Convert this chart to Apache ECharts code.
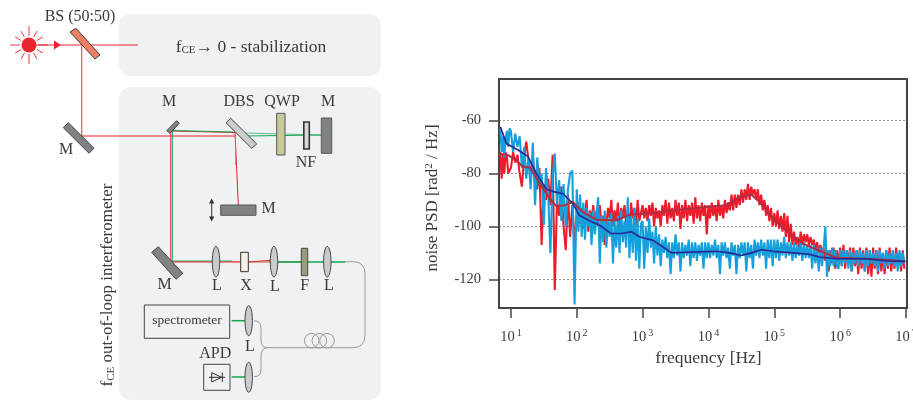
<!DOCTYPE html>
<html>
<head>
<meta charset="utf-8">
<style>html,body{margin:0;padding:0;background:#fff}#chart{width:913px;height:400px}</style>
<script src="https://cdn.jsdelivr.net/npm/echarts@6/dist/echarts.min.js"></script>
</head>
<body>
<div id="chart"></div>
<script>
// ---- values ----
const yTicks = [-120, -100, -80, -60];
const xTicks = [1e1, 1e2, 1e3, 1e4, 1e5, 1e6, 1e7];

// out-of-loop noise (red): one list per frequency span
const red0 = [-72,-82,-73,-80,-72,-74,-80,-79];
const red1 = [-78,-72,-76,-73,-80,-85,-74,-68,-75,-80,-74,-82,-86,-78,-107,-84,-90,-82,-92,-73,-124,-90,-96,-85,-100,-109,-88,-104,-92,-106];
const red2 = [-96,-91,-99,-93,-101,-95,-90,-102,-94,-98,-92,-100,-94,-100,-92,-99,-96,-107,-99,-93,-97,-90,-100,-94,-98,-91,-101,-93,-97,-92,-99,-94,-102,-91,-97,-93,-100,-90,-98,-95];
const red3 = [-92,-97,-93,-98,-92,-96,-91,-100,-93,-97,-94,-100,-92,-96,-90,-99,-91,-97,-93,-98,-90,-96,-91,-101,-92,-97,-90,-98,-92,-96,-91,-99,-89,-97,-92,-98,-91,-96,-92,-103];
const red4 = [-92,-97,-91,-96,-92,-98,-90,-96,-92,-97,-90,-95,-91,-94,-88,-94,-88,-93,-88,-92,-86,-91,-86,-90,-84,-90,-85,-88,-86,-90,-86,-92,-88,-94,-90,-96,-92,-98,-93,-100];
const red5 = [-95,-100,-94,-101,-96,-102,-95,-104,-96,-106,-99,-107,-102,-107,-104,-108,-102,-107,-103,-106,-103,-107,-104,-107,-105,-109,-106,-110,-107,-110,-108,-113,-109,-117,-109,-114,-108,-116,-109,-114];
const red6 = [-108,-115,-107,-116,-109,-114,-108,-117,-108,-115,-109,-118,-108,-116,-109,-117,-108,-118,-109,-119,-108,-116,-109,-118,-108,-117,-110,-118,-109,-116,-108,-117,-110,-116,-108,-115,-110,-117,-109,-116];

// in-loop noise (blue)
const blue0 = [-63,-72,-66,-74,-67,-64,-70,-63];
const blue1 = [-64,-72,-65,-70,-66,-78,-70,-82,-74,-86,-68.5,-92,-74,-84,-80,-99.5,-78,-88,-110,-82,-72.5,-92,-82.5,-98,-84,-100,-86,-80,-79,-129.5];
const blue2 = [-86,-102,-88,-104,-91,-105,-93,-100,-95,-107,-94,-103,-96,-89,-114,-96,-106,-94,-108,-97,-104,-95,-114,-98,-108,-96,-110,-94,-106,-98,-108,-89,-112,-96,-110,-93,-113,-97,-116,-99];
const blue3 = [-98,-116,-100,-110,-97,-108,-102,-114,-100,-111,-103,-115,-105,-110,-104,-112,-106,-118,-106,-112,-103,-111,-106,-117,-106,-112,-107,-111,-105,-115,-106,-112,-106,-113,-107,-111,-106,-116,-106,-112];
const blue4 = [-106,-112,-107,-111,-105,-112,-107,-118,-106,-111,-106,-112,-108,-116,-106,-111,-107,-118,-107,-112,-106,-111,-106,-117,-106,-112,-107,-116,-105,-111,-106,-112,-105,-111,-106,-116,-105,-112,-105,-115];
const blue5 = [-105,-112,-105,-113,-106,-111,-104,-112,-106,-111,-106,-113,-106,-112,-107,-111,-106,-113,-106,-112,-107,-112,-107,-116,-107,-114,-108,-117,-108,-115,-108,-100,-119,-109,-115,-108,-115,-109,-115,-116];
const blue6 = [-109,-115,-109,-114,-109,-116,-109,-117,-110,-114,-109,-115,-109,-114,-110,-117,-109,-115,-109,-114,-110,-115,-109,-117,-109,-114,-110,-116,-109,-115,-110,-114,-109,-115,-110,-117,-109,-115,-110,-114];

// averaged traces: log10(frequency) and level
const redAvgLog = [.84,.95,1.08,1.18,1.29,1.44,1.59,1.69,1.82,1.94,2.09,2.3,2.6,2.8,3.16,3.61,4.27,4.48,4.65,4.8,4.98,5.23,5.44,5.69,5.94,6.5,6.99];
const redAvg = [-72.7,-73,-75,-77.5,-77.8,-83.8,-89.5,-92.4,-92,-90.8,-94.6,-97.5,-97.7,-95.6,-95,-93.5,-92,-88.9,-88,-91.4,-97,-102.7,-106.5,-109.3,-111.8,-112.3,-113.2];
const blueAvgLog = [.84,.93,1.11,1.26,1.385,1.54,1.66,1.79,1.94,2.04,2.2,2.35,2.52,2.68,2.83,2.96,3.16,3.31,3.44,3.72,4.12,4.32,4.5,4.65,4.8,4.98,5.29,5.54,5.69,5.94,6.4,6.7,6.99];
const blueAvg = [-62.4,-68.7,-71.2,-73.7,-80,-86,-87,-87.6,-91.4,-95.8,-98,-99.6,-102.7,-102.7,-102,-104,-105.3,-107.8,-110,-109.7,-109.4,-110,-111,-110,-108.8,-109.4,-110,-110.6,-111.6,-112.2,-112.3,-113,-113.2];

// span (log10 start, log10 end) covered by each list
const spans = [[.84,1],[1,2],[2,3],[3,4],[4,5],[5,6],[6,7]];
function assemble(lists){
  const out = [];
  lists.forEach((list, s) => list.forEach((v, i) => {
    out.push([Math.pow(10, spans[s][0] + (spans[s][1]-spans[s][0]) * i / list.length), v]);
  }));
  return out;
}
const pair = (logs, vals) => logs.map((l, i) => [Math.pow(10, l), vals[i]]);

// ---- schematic drawn with the library's graphic layer ----
const SERIF = '"Liberation Serif","Times New Roman",serif';
const INK = '#3a3a3a', RED = '#e8212e', PINK = '#ef5f6c', GREEN = '#0fa650', FIB = '#9a9a9a', MIR = '#808285';
const g = [];
const line = (x1,y1,x2,y2,stroke,w) => g.push({type:'line',silent:true,shape:{x1,y1,x2,y2},style:{stroke,lineWidth:w||1}});
const curve = (x1,y1,cpx1,cpy1,x2,y2,stroke,w) => g.push({type:'bezierCurve',silent:true,shape:{x1,y1,cpx1,cpy1,x2,y2},style:{fill:'none',stroke,lineWidth:w||1}});
const poly = (points,fill,stroke,w) => g.push({type:'polygon',silent:true,shape:{points},style:{fill,stroke:stroke||'#444',lineWidth:w===undefined?1:w}});
const rect = (x,y,width,height,fill,stroke,w,r) => g.push({type:'rect',silent:true,shape:{x,y,width,height,r:r||0},style:{fill,stroke:stroke||'none',lineWidth:w===undefined?1:w}});
const lens = (cx,cy,ry) => g.push({type:'ellipse',silent:true,shape:{cx,cy,rx:3.7,ry},style:{fill:'#c9cbce',stroke:'#444',lineWidth:1}});
const text = (x,y,t,size) => g.push({type:'text',silent:true,x,y,style:{text:t,font:(size||16)+'px '+SERIF,fill:INK,align:'center',verticalAlign:'middle'}});

rect(119,14,262,62,'#f0f1f3',null,0,12);
rect(119,87,262,313,'#f0f1f3',null,0,12);

// laser
for (let a = 0; a < 12; a++) {
  const t = a * Math.PI / 6, s = (a % 3 === 0) ? 19 : 16;
  line(29+9*Math.cos(t),45+9*Math.sin(t),29+s*Math.cos(t),45+s*Math.sin(t),'#f0333f',1);
}
g.push({type:'circle',silent:true,shape:{cx:29,cy:45,r:7.5},style:{fill:'#e8262f'}});
line(29,45,138,45,RED,1);
poly([[54,40.5],[61,45],[54,49.5]],RED,RED,0);

// beams
line(81.7,45,81.7,136,PINK,1.3);
line(81.7,136,236,136,RED,1.2);
line(171.5,131,235,132.5,RED,1);
line(172,130.5,233,132,GREEN,1);
line(245,133,321,135,'#5fbf8a',1);
line(245,136,321,135,GREEN,1);
line(235,132.5,238.3,205,RED,1);
line(235.5,133,235.5,165,PINK,.8);
line(170.8,131,170.8,261.7,RED,1);
line(172.3,131,172.3,261.7,GREEN,1);
line(172,261.9,240,261.9,RED,1.2);
line(172,260.9,232,260.9,GREEN,.7);
line(248,262,274,260,RED,1);
line(248,262,301,262,'#b8562c',1.2);
line(274,262,345,262,GREEN,1.4);
line(231.7,320.7,245,320.7,GREEN,1.5);
line(231.7,377,245,377,GREEN,1.5);

// fibre
line(345,261.7,353,261.7,FIB);
curve(353,261.7,365,261.7,365,274,FIB);
line(365,274,365,335,FIB);
curve(365,335,365,347.7,353,347.7,FIB);
line(353,347.7,268,347.7,FIB);
curve(268,347.7,261,347.7,261,340,FIB);
line(261,340,261,328,FIB);
curve(261,328,261,320.7,254,320.7,FIB);
curve(268,347.7,261,347.7,261,355,FIB);
line(261,355,261,370,FIB);
curve(261,370,261,376.7,254,376.7,FIB);
[311.7,319.3,327].forEach(cx => g.push({type:'circle',silent:true,shape:{cx,cy:340.7,r:7.3},style:{fill:'none',stroke:FIB,lineWidth:1}}));

// optics
poly([[70,32],[76,28.3],[100,55],[95,59]],'#f08062','#3a3a3a');
poly([[63.3,127.7],[68.3,122.7],[94,148.3],[89,153.3]],MIR);
poly([[166.7,130.7],[176.7,120.7],[179.3,123.3],[170,133.3]],MIR);
poly([[226,122.7],[230.7,118.3],[256.7,144],[251.7,148.3]],'#cccdcf');
rect(276.7,113.3,8.3,41.7,'#c8c79a','#555',1);
rect(303.8,122,5.5,27,'#d8d8d8','#333',1.6);
rect(321.3,118,10.4,35.3,MIR,'#555',1);
rect(220.7,205,35.3,10.3,MIR,'#555',1);
poly([[151.7,252.3],[158.3,246.7],[182.7,273.3],[176,279.3]],MIR);
lens(216,261.7,15.3);
rect(240.7,252.3,7.6,19.4,'#f8efe6','#333',1);
lens(274,261.7,15.3);
rect(301.3,248.3,6.4,27.4,'#9a9d7a','#444',1);
lens(327.3,261.7,15.3);
lens(248.7,320.7,15);
lens(248.7,377.3,15);
rect(144.3,305,85.4,33.3,'none','#444',1);
rect(203.7,364.3,26.3,26,'none','#444',1);
poly([[211.7,372.7],[211.7,382],[221.7,377.3]],'none','#333',1);
line(222.3,372.7,222.3,382,'#333',1);
line(209,377.3,225,377.3,'#333',1);
// translation arrow
line(211.7,201,211.7,219,'#333',1);
poly([[209,203.5],[211.7,198.5],[214.4,203.5]],'#333','#333',0);
poly([[209,216.5],[211.7,221.5],[214.4,216.5]],'#333','#333',0);

// labels
text(80,17,'BS (50:50)');
text(66,150,'M');
text(169,101.7,'M');
text(239,101.7,'DBS');
text(282,101.7,'QWP');
text(328,101.7,'M');
text(306,163,'NF');
text(268.5,209,'M');
text(164.7,285,'M');
text(217,285.7,'L');
text(246,285.7,'X');
text(275,286.7,'L');
text(304.7,285.7,'F');
text(329,285.7,'L');
text(250,346.7,'L');
text(215.3,354,'APD');
text(187,320.5,'spectrometer',13.5);
g.push({type:'text',silent:true,x:251,y:47,style:{text:'f{sub|CE}\u2192 0 - stabilization',font:'17.5px '+SERIF,fill:INK,align:'center',verticalAlign:'middle',
  rich:{sub:{font:'11px '+SERIF,fill:INK,padding:[7,0,0,0]}}}});
g.push({type:'text',silent:true,x:108,y:285,rotation:Math.PI/2,style:{text:'f{sub|CE} out-of-loop interferometer',font:'17px '+SERIF,fill:INK,align:'center',verticalAlign:'middle',
  rich:{sub:{font:'11px '+SERIF,fill:INK,padding:[7,0,0,0]}}}});

const option = {
  animation:false,
  backgroundColor:'#fff',
  graphic:{elements:g},
  grid:{left:499,top:79,width:408,height:229,outerBoundsMode:'none',show:true,borderColor:'#444',borderWidth:2,backgroundColor:'transparent'},
  xAxis:{
    type:'log',logBase:10,min:6.6,max:1.035e7,
    name:'frequency [Hz]',nameLocation:'middle',nameGap:41,
    nameTextStyle:{fontFamily:SERIF,fontSize:17.5,color:INK,padding:[0,0,0,11]},
    axisLine:{show:true,onZero:false,lineStyle:{color:'#444',width:2}},
    axisTick:{show:true,length:10,lineStyle:{color:'#444',width:1.5},customValues:xTicks},
    minorTick:{show:false},splitLine:{show:false},minorSplitLine:{show:false},
    axisLabel:{
      margin:20,customValues:xTicks,showMinLabel:true,showMaxLabel:true,hideOverlap:false,
      fontFamily:SERIF,fontSize:14.5,color:INK,
      formatter:v=>'10{s|'+Math.round(Math.log10(v))+'}',
      rich:{s:{fontFamily:SERIF,fontSize:10,color:INK,padding:[0,0,9,2]}}
    }
  },
  yAxis:{
    type:'value',min:-130.8,max:-44.4,
    name:'noise PSD [rad{s|2} / Hz]',nameLocation:'middle',nameGap:57,
    nameTextStyle:{fontFamily:SERIF,fontSize:17,color:INK,padding:[0,9,0,0],rich:{s:{fontFamily:SERIF,fontSize:11,color:INK,padding:[0,0,7,0]}}},
    axisLine:{show:true,onZero:false,lineStyle:{color:'#444',width:2}},
    axisTick:{show:true,length:10,lineStyle:{color:'#444',width:1.5},customValues:yTicks},
    splitLine:{show:true,lineStyle:{color:'#999',width:1,type:[2,2]}},
    axisLabel:{margin:18,customValues:yTicks,fontFamily:SERIF,fontSize:14.5,color:INK}
  },
  series:[
    {name:'out-of-loop',type:'line',symbol:'none',lineStyle:{color:'#ed1c2b',width:2.1},data:assemble([red0,red1,red2,red3,red4,red5,red6])},
    {name:'in-loop',type:'line',symbol:'none',lineStyle:{color:'#14a0dc',width:2.1},data:assemble([blue0,blue1,blue2,blue3,blue4,blue5,blue6])},
    {name:'out-of-loop average',type:'line',symbol:'none',lineStyle:{color:'#b22c42',width:2},data:pair(redAvgLog,redAvg)},
    {name:'in-loop average',type:'line',symbol:'none',lineStyle:{color:'#2b2a94',width:1.7},data:pair(blueAvgLog,blueAvg)}
  ]
};
echarts.init(document.getElementById('chart'),null,{renderer:'canvas'}).setOption(option);
</script>
</body>
</html>
